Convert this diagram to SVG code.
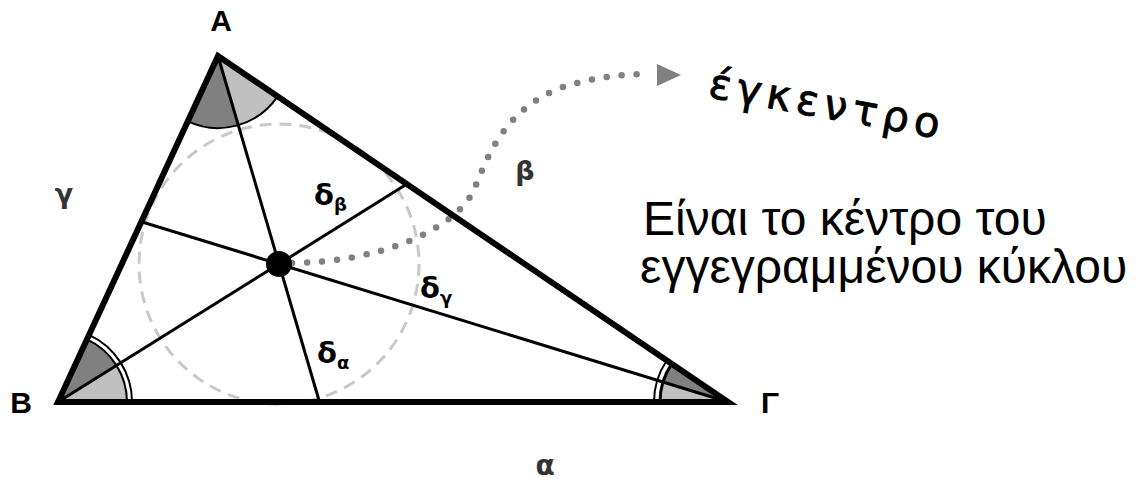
<svg xmlns="http://www.w3.org/2000/svg" width="1146" height="488" viewBox="0 0 1146 488">
<style>
.dark{fill:#808080;stroke:none}
.light{fill:#c0c0c0;stroke:none}
.arc{fill:none;stroke:#000;stroke-width:2}
.bis{stroke:#000;stroke-width:3;fill:none}
.lbl{font-family:"Liberation Sans",Arial,sans-serif;font-weight:bold;fill:#000}
.glbl{font-family:"DejaVu Sans","Liberation Sans",sans-serif;font-weight:bold;fill:#333}
.dl{font-family:"DejaVu Sans","Liberation Sans",sans-serif;font-weight:bold;fill:#000}
.txt{font-family:"Liberation Sans",Arial,sans-serif;fill:#000}
.hand{font-family:"DejaVu Sans","Noto Sans",sans-serif;fill:#000;stroke:#000;stroke-width:0.8}
</style>
<rect width="1146" height="488" fill="#fff"/>
<g id="angles">
<path class="dark" d="M218,56 L187.8,121.4 A72,72 0 0 0 238.3,125.1 Z"/>
<path class="light" d="M218,56 L238.3,125.1 A72,72 0 0 0 277.6,96.4 Z"/>
<path class="dark" d="M58,402 L86.96,339.4 A69,69 0 0 1 116.5,365.5 Z"/>
<path class="light" d="M58,402 L116.5,365.5 A69,69 0 0 1 127,402 Z"/>
<path class="dark" d="M728,402 L671.7,363.8 A68,68 0 0 0 663,382 Z"/>
<path class="light" d="M728,402 L663,382 A68,68 0 0 0 660,402 Z"/>
</g>
<g id="incircle">
<circle cx="279" cy="264" r="140" fill="none" stroke="#c8c8c8" stroke-width="3" stroke-dasharray="12 8"/>
</g>
<g id="connectors">
<line class="bis" x1="218" y1="56" x2="319.5" y2="402"/>
<line class="bis" x1="58" y1="402" x2="406.9" y2="184.1"/>
<line class="bis" x1="728" y1="402" x2="141.4" y2="221.7"/>
<path id="pointer" d="M292,263 C380,262 455,230 474,190 C488,155 505,110 560,88 C590,78 620,74 648,74" fill="none" stroke="#808080" stroke-width="6.5" stroke-linecap="round" stroke-dasharray="0 15"/>
<polygon points="657,64 681,75 657,86" fill="#808080"/>
</g>
<g id="triangle">
<polygon points="218,56 58,402 728,402" fill="none" stroke="#000" stroke-width="6" stroke-linejoin="miter"/>
</g>
<g id="arcs">
<path class="arc" d="M187.8,121.4 A72,72 0 0 0 277.6,96.4"/>
<path class="arc" d="M86.96,339.4 A69,69 0 0 1 127,402"/>
<path class="arc" d="M89.06,334.8 A74,74 0 0 1 132,402"/>
<path class="arc" style="stroke-width:3" d="M671.7,363.8 A68,68 0 0 0 660,402"/>
<path class="arc" d="M666.8,360.5 A74,74 0 0 0 654,402"/>
</g>
<g id="incenter">
<circle cx="279" cy="264" r="13" fill="#000"/>
</g>
<g id="labels">
<text class="lbl" x="221" y="31" font-size="30" text-anchor="middle">A</text>
<text class="lbl" x="21" y="413" font-size="30" text-anchor="middle">B</text>
<text class="lbl" x="770" y="413" font-size="30" text-anchor="middle">Γ</text>
<text class="glbl" x="64" y="203" font-size="27" text-anchor="middle">γ</text>
<text class="glbl" x="525" y="180" font-size="27" text-anchor="middle">β</text>
<text class="glbl" x="545" y="475" font-size="28" text-anchor="middle">α</text>
<text class="dl" x="314" y="205" font-size="29">δ<tspan font-size="18" dy="6">β</tspan></text>
<text class="dl" x="420" y="298" font-size="29">δ<tspan font-size="18" dy="6">γ</tspan></text>
<text class="dl" x="317" y="363" font-size="29">δ<tspan font-size="18" dy="6">α</tspan></text>
</g>
<g id="title">
<text class="hand" transform="translate(707,97) rotate(10.2)" font-size="42" textLength="234" lengthAdjust="spacing">έγκεντρο</text>
</g>
<g id="description">
<text class="txt" x="643" y="235" font-size="48">Είναι το κέντρο του</text>
<text class="txt" x="640" y="283" font-size="48">εγγεγραμμένου κύκλου</text>
</g>
</svg>
